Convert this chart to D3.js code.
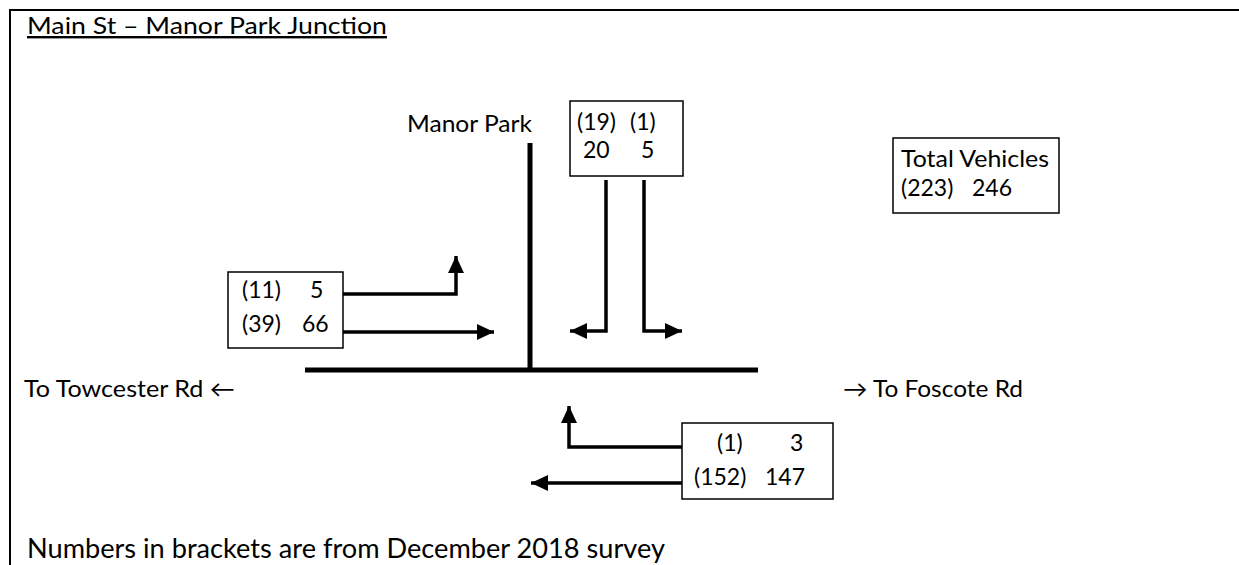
<!DOCTYPE html>
<html>
<head>
<meta charset="utf-8">
<script src="https://cdn.jsdelivr.net/npm/d3@7"></script>
<style>
  body { margin: 0; background: #fff; }
  svg text { font-family: Lato, "Open Sans", sans-serif; fill: #000; }
</style>
</head>
<body>
<svg width="1239" height="565"></svg>
<script>
// turning movements at the junction, in the order the boxes show them
var movements = ["Manor Park to Towcester Rd", "Manor Park to Foscote Rd",
                 "Towcester Rd to Manor Park", "Towcester Rd to Foscote Rd",
                 "Foscote Rd to Manor Park", "Foscote Rd to Towcester Rd"];
var dec2018 = [19, 1, 11, 39, 1, 152];   // numbers in brackets
var current = [20, 5, 5, 66, 3, 147];

var totalPrev = d3.sum(dec2018),
    totalNow = d3.sum(current);

var svg = d3.select("svg");

// arrow head
svg.append("defs").append("marker")
    .attr("id", "head")
    .attr("markerUnits", "userSpaceOnUse")
    .attr("viewBox", "0 0 17 16")
    .attr("refX", 17).attr("refY", 8)
    .attr("markerWidth", 17).attr("markerHeight", 16)
    .attr("orient", "auto")
  .append("path")
    .attr("d", "M0,0L17,8L0,16Z")
    .attr("fill", "#000");

// frame (top and left edge only)
svg.append("path")
    .attr("d", "M10,565V10H1239")
    .attr("fill", "none").attr("stroke", "#000").attr("stroke-width", 2);

// title
svg.append("text").attr("x", 27).attr("y", 34)
    .attr("font-size", 24).attr("textLength", 360).attr("lengthAdjust", "spacingAndGlyphs")
    .attr("text-decoration", "underline")
    .text("Main St \u2013 Manor Park Junction");

// roads
var roads = [
  {x1: 305, y1: 370, x2: 758, y2: 370},   // Main St
  {x1: 530, y1: 143, x2: 530, y2: 370}    // Manor Park
];
svg.selectAll("line.road").data(roads).enter().append("line")
    .attr("class", "road")
    .attr("x1", d => d.x1).attr("y1", d => d.y1)
    .attr("x2", d => d.x2).attr("y2", d => d.y2)
    .attr("stroke", "#000").attr("stroke-width", 5);

// labels
var labels = [
  {t: "Manor Park", x: 407, y: 132, len: 125},
  {t: "To Towcester Rd \u2190", x: 24, y: 397, len: 211},
  {t: "\u2192 To Foscote Rd", x: 843, y: 397, len: 180}
];
svg.selectAll("text.lbl").data(labels).enter().append("text")
    .attr("class", "lbl")
    .attr("x", d => d.x).attr("y", d => d.y)
    .attr("font-size", 23)
    .attr("textLength", d => d.len).attr("lengthAdjust", "spacingAndGlyphs")
    .text(d => d.t);

svg.append("text").attr("x", 27).attr("y", 558)
    .attr("font-size", 26).attr("textLength", 638).attr("lengthAdjust", "spacingAndGlyphs")
    .text("Numbers in brackets are from December 2018 survey");

// flow arrows, one per movement
var arrows = [
  "M606,180V331H570",
  "M644,180V331H682",
  "M343,294H456V256",
  "M343,332H494",
  "M682,447H569V406",
  "M682,483H531"
];
svg.selectAll("path.flow").data(movements).enter().append("path")
    .attr("class", "flow")
    .attr("d", (d, i) => arrows[i])
    .attr("fill", "none").attr("stroke", "#000").attr("stroke-width", 3.5)
    .attr("marker-end", "url(#head)");

// count boxes
var boxes = [
  {x: 570, y: 101, w: 113, h: 75},
  {x: 228, y: 272, w: 115, h: 76},
  {x: 682, y: 423, w: 151, h: 76},
  {x: 893, y: 138, w: 166, h: 75}
];
svg.selectAll("rect.box").data(boxes).enter().append("rect")
    .attr("class", "box")
    .attr("x", d => d.x).attr("y", d => d.y)
    .attr("width", d => d.w).attr("height", d => d.h)
    .attr("fill", "#fff").attr("stroke", "#000").attr("stroke-width", 1.5);

// where each movement's numbers sit: [bracket x, bracket y, current x, current y]
var spots = [
  [577, 130, 583, 158],
  [630, 130, 641, 158],
  [242, 298, 310, 298],
  [242, 332, 302, 332],
  [717, 451, 790, 451],
  [694, 485, 765, 485]
];
var cells = [];
movements.forEach(function(m, i) {
  cells.push({t: "(" + dec2018[i] + ")", x: spots[i][0], y: spots[i][1]});
  cells.push({t: String(current[i]), x: spots[i][2], y: spots[i][3]});
});
cells.push({t: "Total Vehicles", x: 901, y: 167, len: 148});
cells.push({t: "(" + totalPrev + ")", x: 901, y: 196});
cells.push({t: String(totalNow), x: 972, y: 196});

svg.selectAll("text.num").data(cells).enter().append("text")
    .attr("class", "num")
    .attr("x", d => d.x).attr("y", d => d.y)
    .attr("font-size", 23)
    .attr("textLength", d => d.len || null)
    .attr("lengthAdjust", d => d.len ? "spacingAndGlyphs" : null)
    .text(d => d.t);
</script>
</body>
</html>
